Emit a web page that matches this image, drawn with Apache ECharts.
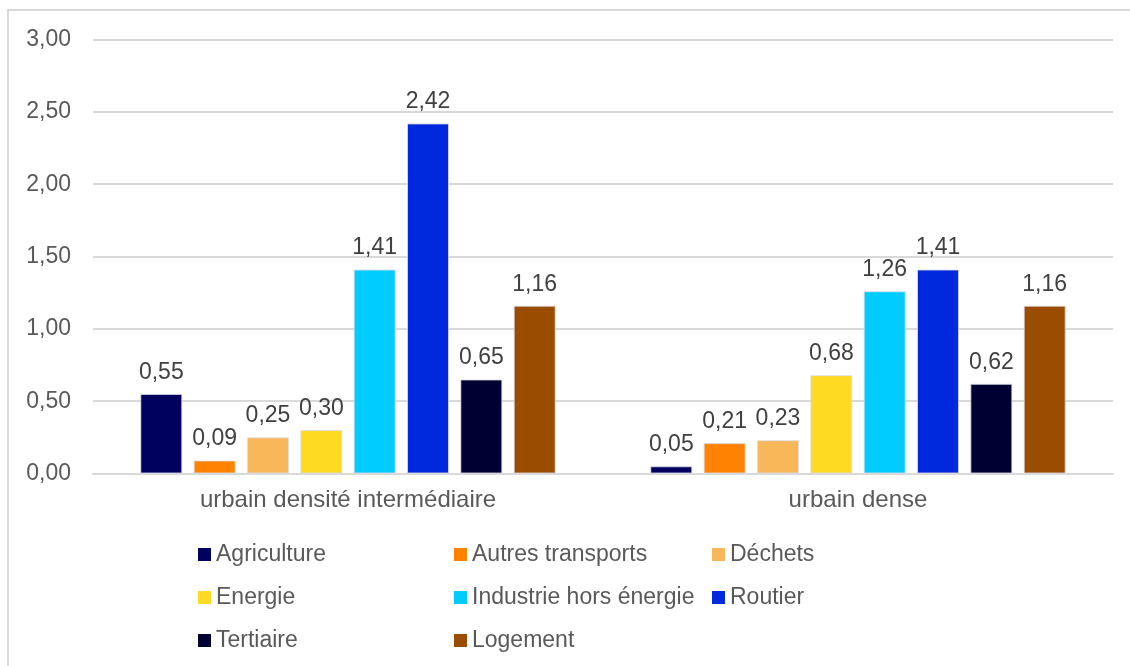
<!DOCTYPE html>
<html>
<head>
<meta charset="utf-8">
<script src="https://cdn.jsdelivr.net/npm/echarts@6/dist/echarts.min.js"></script>
<style>
  html, body { margin: 0; padding: 0; background: #fff; }
  #chart { width: 1130px; height: 666px; }
</style>
</head>
<body>
<div id="chart"></div>
<script>
// Émissions par secteur selon le type de territoire urbain
const categories = ['urbain densité intermédiaire', 'urbain dense'];

const agriculture       = [0.55, 0.05];
const autresTransports  = [0.09, 0.21];
const dechets           = [0.25, 0.23];
const energie           = [0.30, 0.68];
const industrie         = [1.41, 1.26];
const routier           = [2.42, 1.41];
const tertiaire         = [0.65, 0.62];
const logement          = [1.16, 1.16];

const yTicks = { min: 0, max: 3, interval: 0.5 };

const seriesDefs = [
  { name: 'Agriculture',            data: agriculture,      color: '#00005e' },
  { name: 'Autres transports',      data: autresTransports, color: '#ff8200' },
  { name: 'Déchets',                data: dechets,          color: '#f8b85a' },
  { name: 'Energie',                data: energie,          color: '#ffda22' },
  { name: 'Industrie hors énergie', data: industrie,        color: '#00ccff' },
  { name: 'Routier',                data: routier,          color: '#0028dc' },
  { name: 'Tertiaire',              data: tertiaire,        color: '#000033' },
  { name: 'Logement',               data: logement,         color: '#9a4c00' }
];

const FONT = '"Liberation Sans", Arial, sans-serif';
const fmt = v => Number(v).toFixed(2).replace('.', ',');

const legendBase = {
  orient: 'vertical',
  top: 542,
  itemWidth: 13,
  itemHeight: 13,
  itemGap: 18,
  icon: 'rect',
  itemStyle: { borderWidth: 0 },
  textStyle: { fontFamily: FONT, fontSize: 23, color: '#595959', lineHeight: 25, padding: [0, 0, 0, 0] },
  padding: 0
};

const chart = echarts.init(document.getElementById('chart'), null, { renderer: 'canvas' });

chart.setOption({
  backgroundColor: '#ffffff',
  animation: false,
  textStyle: { fontFamily: FONT },
  graphic: [{
    type: 'rect',
    shape: { x: 8, y: 10, width: 1140, height: 680 },
    style: { fill: 'none', stroke: '#d9d9d9', lineWidth: 2 },
    silent: true
  }],
  grid: { left: 93, right: 17, top: 39.5, bottom: 192.5, containLabel: false },
  legend: [
    Object.assign({}, legendBase, { left: 198, data: ['Agriculture', 'Energie', 'Tertiaire'] }),
    Object.assign({}, legendBase, { left: 454, data: ['Autres transports', 'Industrie hors énergie', 'Logement'] }),
    Object.assign({}, legendBase, { left: 712, data: ['Déchets', 'Routier'] })
  ],
  xAxis: {
    type: 'category',
    data: categories,
    axisTick: { show: false },
    axisLine: { lineStyle: { color: '#d9d9d9', width: 2 } },
    axisLabel: { fontFamily: FONT, fontSize: 24, color: '#595959', margin: 15 }
  },
  yAxis: {
    type: 'value',
    min: yTicks.min,
    max: yTicks.max,
    interval: yTicks.interval,
    axisLine: { show: false },
    axisTick: { show: false },
    splitLine: { lineStyle: { color: '#d9d9d9', width: 2 } },
    axisLabel: { fontFamily: FONT, fontSize: 23, color: '#595959', margin: 22, formatter: fmt }
  },
  series: seriesDefs.map(s => ({
    type: 'bar',
    name: s.name,
    data: s.data,
    barWidth: 42,
    barGap: '27%',
    itemStyle: { color: s.color, borderColor: 'rgba(220,220,230,0.8)', borderWidth: 1 },
    label: {
      show: true,
      position: 'top',
      distance: 10,
      fontFamily: FONT,
      fontSize: 23,
      color: '#404040',
      formatter: p => fmt(p.value)
    }
  }))
});
</script>
</body>
</html>
